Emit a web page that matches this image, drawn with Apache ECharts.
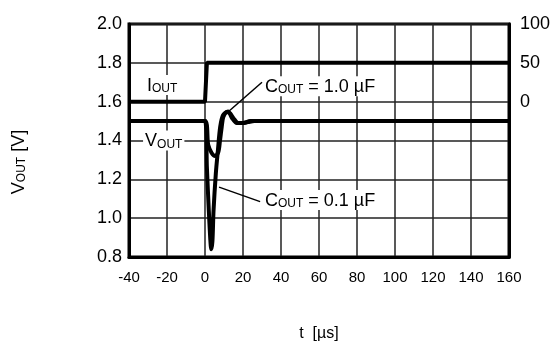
<!DOCTYPE html>
<html>
<head>
<meta charset="utf-8">
<script src="https://cdn.jsdelivr.net/npm/echarts@6/dist/echarts.min.js"></script>
<style>
  html, body { margin: 0; padding: 0; background: #fff; }
  #chart { width: 555px; height: 352px; }
</style>
</head>
<body>
<div id="chart"></div>
<script>
// I_OUT step (right axis, mA)
var tIout = [-40, 0, 1, 160];
var iout = [0, 0, 50, 50];

// V_OUT, C_OUT = 0.1 uF
var tC01 = [-40, 0, 1.0, 2.0, 2.8, 3.3, 3.9, 4.5, 5.7, 6.8, 8.0, 9.5, 12.1, 14.2, 16.7, 19.3, 22.6, 26, 160];
var vC01 = [1.5, 1.5, 1.26, 1.04, 0.89, 0.84, 0.88, 1.04, 1.23, 1.35, 1.47, 1.53, 1.55, 1.516, 1.49, 1.49, 1.495, 1.5, 1.5];

// V_OUT, C_OUT = 1.0 uF
var tC10 = [-40, 0, 1.7, 3.5, 5.3, 7.0, 7.9, 8.8, 9.6, 11.4, 13.2, 14.9, 17.5, 20.2, 23.7, 160];
var vC10 = [1.5, 1.5, 1.377, 1.336, 1.32, 1.34, 1.40, 1.47, 1.52, 1.547, 1.54, 1.516, 1.49, 1.49, 1.5, 1.5];

// annotations (data coords)
var noteText = ['{m|I}{s|OUT}', '{m|V}{s|OUT}', '{m|C}{s|OUT}{m| = 1.0 µF}', '{m|C}{s|OUT}{m| = 0.1 µF}'];
var notePos = [[-31.6, 1.686], [-32.6, 1.4], [30.5, 1.68], [30.5, 1.094]];
var leader10 = [[30, 1.70], [12.1, 1.547]];
var leader01 = [[7.4, 1.16], [29, 1.085]];

function zip(a, b) {
  return a.map(function (x, i) { return [x, b[i]]; });
}

var chartDom = document.getElementById('chart');
var myChart = echarts.init(chartDom);
var font = 'Liberation Sans, Arial, sans-serif';
var richText = {
  m: { fontSize: 18, fontFamily: font, color: '#000', lineHeight: 20, verticalAlign: 'bottom' },
  s: { fontSize: 12, fontFamily: font, color: '#000', lineHeight: 12, verticalAlign: 'bottom' }
};

var option = {
  animation: false,
  grid: {
    left: 129, right: 46, top: 24, bottom: 95,
    show: true, borderColor: '#000', borderWidth: 3
  },
  xAxis: {
    type: 'value',
    min: -40, max: 160, interval: 20,
    name: 't  [µs]',
    nameLocation: 'middle',
    nameGap: 69,
    nameTextStyle: { fontSize: 16, fontFamily: font, color: '#000' },
    axisLine: { onZero: false, lineStyle: { color: '#000', width: 3 } },
    axisTick: { show: false },
    axisLabel: { fontSize: 15, fontFamily: font, color: '#000', margin: 13 },
    splitLine: { lineStyle: { color: '#222', width: 1.5 } }
  },
  yAxis: [
    {
      type: 'value',
      min: 0.8, max: 2.0, interval: 0.2,
      axisLine: { show: true, onZero: false, lineStyle: { color: '#000', width: 3 } },
      axisTick: { show: false },
      axisLabel: {
        fontSize: 18, fontFamily: font, color: '#000', margin: 7,
        formatter: function (v) { return v.toFixed(1); }
      },
      splitLine: { lineStyle: { color: '#222', width: 1.5 } }
    },
    {
      type: 'value',
      min: -200, max: 100, interval: 50,
      position: 'right',
      axisLine: { show: true, onZero: false, lineStyle: { color: '#000', width: 3 } },
      axisTick: { show: false },
      axisLabel: {
        fontSize: 18, fontFamily: font, color: '#000', margin: 11,
        formatter: function (v) { return v >= 0 ? String(v) : ''; }
      },
      splitLine: { show: false }
    }
  ],
  series: [
    {
      name: 'Iout',
      type: 'line',
      yAxisIndex: 1,
      symbol: 'none',
      lineStyle: { color: '#000', width: 4 },
      data: zip(tIout, iout)
    },
    {
      name: 'Vout 0.1uF',
      type: 'line',
      symbol: 'none',
      smooth: 0.3,
      lineStyle: { color: '#000', width: 4 },
      data: zip(tC01, vC01),
      markLine: {
        silent: true,
        symbol: 'none',
        label: { show: false },
        lineStyle: { color: '#000', width: 1.5, type: 'solid' },
        data: [
          [{ coord: leader10[0] }, { coord: leader10[1] }],
          [{ coord: leader01[0] }, { coord: leader01[1] }]
        ]
      }
    },
    {
      name: 'Vout 1.0uF',
      type: 'line',
      symbol: 'none',
      smooth: 0.3,
      lineStyle: { color: '#000', width: 4 },
      data: zip(tC10, vC10)
    }
  ]
};

option && myChart.setOption(option);

// annotation texts placed through the grid's own scales
var graphics = notePos.map(function (p, i) {
  var px = myChart.convertToPixel({ gridIndex: 0 }, p);
  return {
    type: 'text',
    x: px[0], y: px[1],
    z: 100,
    style: {
      text: noteText[i],
      rich: richText,
      align: 'left',
      verticalAlign: 'middle',
      backgroundColor: '#fff',
      padding: [0, 2, 0, 2]
    }
  };
});
graphics.push({
  type: 'text',
  x: 18, y: 162,
  rotation: Math.PI / 2,
  style: {
    text: '{m|V}{s|OUT}{m| [V]}',
    rich: richText,
    align: 'center',
    verticalAlign: 'middle'
  }
});
myChart.setOption({ graphic: graphics });
</script>
</body>
</html>
